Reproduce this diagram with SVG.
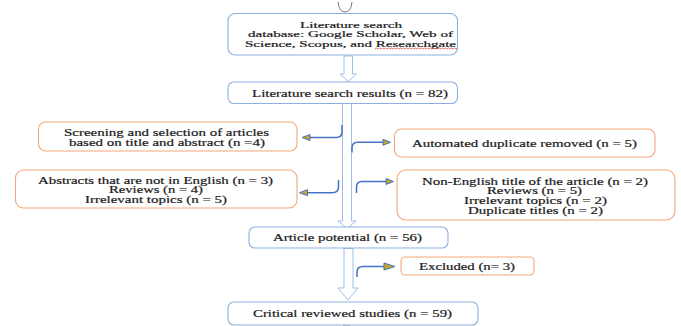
<svg xmlns="http://www.w3.org/2000/svg" width="681" height="326" viewBox="0 0 681 326">
<style>
.bb{fill:#fff;stroke:#8eb0e0;stroke-width:1.1}
.ob{fill:#fff;stroke:#f4a777;stroke-width:1.1}
.t{font-family:"Liberation Serif","Times New Roman",serif;font-size:10.5px;fill:#1a1a1a;stroke:#1a1a1a;stroke-width:0.2}
.s{font-size:9px}
.ha{fill:#fff;stroke:#9dbfe6;stroke-width:1}
.cn{fill:none;stroke:#4472c4;stroke-width:1.5}
.ah{fill:#c9a52a;stroke:#4472c4;stroke-width:1}
</style>
<rect width="681" height="326" fill="#fff"/>
<g id="connectors">
<path d="M338,2 Q339,12 345,12 Q351,12 352,2" fill="none" stroke="#777" stroke-width="1"/>
<path class="ha" d="M344,56 H352.5 V74 H356.5 L348.3,81.5 L340,74 H344 Z"/>
<path class="ha" d="M342.5,103.5 H351.5 V221 H356 L347,228.5 L338,221 H342.5 Z"/>
<path class="ha" d="M344,248.5 H353 V288 H358 L348,300 L338,288 H344 Z"/>
<path class="cn" d="M342,125 V132 Q342,137.5 336,137.5 H309"/>
<path class="ah" d="M302,137.5 L310,134.5 L310,140.5 Z"/>
<path class="cn" d="M338.5,180 V187 Q338.5,192.7 332,192.7 H306"/>
<path class="ah" d="M299.5,192.7 L307.5,189.7 L307.5,195.7 Z"/>
<path class="cn" d="M352,152.5 V148 Q352,142.3 358,142.3 H384"/>
<path class="ah" d="M390.5,142.3 L383,139.3 L383,145.3 Z"/>
<path class="cn" d="M356.5,193 V187 Q356.5,181.5 362,181.5 H387"/>
<path class="ah" d="M393.5,181.5 L386,178.5 L386,184.5 Z"/>
<path class="cn" d="M357,277 V272 Q357,266.5 363,266.5 H384"/>
<path class="ah" d="M395,266.5 L384,263 L384,270 Z"/>
<path d="M343,325 H350" stroke="#777" stroke-width="1"/>
</g>
<g id="n1">
<rect class="bb" x="228" y="13.5" width="229.5" height="41.5" rx="7"/>
<text class="t s" x="300" y="28" textLength="102" lengthAdjust="spacingAndGlyphs">Literature search</text>
<text class="t s" x="248" y="37.3" textLength="205" lengthAdjust="spacingAndGlyphs">database: Google Scholar, Web of</text>
<text class="t s" x="245" y="46.6" textLength="211" lengthAdjust="spacingAndGlyphs">Science, Scopus, and Researchgate</text>
<path d="M375,49 l1.5,-1 l1.5,1 l1.5,-1 l1.5,1 l1.5,-1 l1.5,1 l1.5,-1 l1.5,1 l1.5,-1 l1.5,1 l1.5,-1 l1.5,1 l1.5,-1 l1.5,1 l1.5,-1 l1.5,1 l1.5,-1 l1.5,1 l1.5,-1 l1.5,1 l1.5,-1 l1.5,1 l1.5,-1 l1.5,1 l1.5,-1 l1.5,1 l1.5,-1 l1.5,1 l1.5,-1 l1.5,1 l1.5,-1 l1.5,1 l1.5,-1 l1.5,1 l1.5,-1 l1.5,1 l1.5,-1 l1.5,1 l1.5,-1 l1.5,1 l1.5,-1 l1.5,1 l1.5,-1 l1.5,1 l1.5,-1 l1.5,1 l1.5,-1 l1.5,1 l1.5,-1 l1.5,1 l1.5,-1 l1.5,1 l1.5,-1 l1.5,1 l1.5,-1" fill="none" stroke="#d9534f" stroke-width="0.8"/>
</g>
<g id="n2">
<rect class="bb" x="228" y="82" width="229.5" height="21.5" rx="6"/>
<text class="t" x="252" y="96.5" textLength="196" lengthAdjust="spacingAndGlyphs">Literature search results (n = 82)</text>
</g>
<g id="n3">
<rect class="ob" x="38.5" y="122" width="258.5" height="29" rx="7"/>
<text class="t" x="64" y="135.5" textLength="205" lengthAdjust="spacingAndGlyphs">Screening and selection of articles</text>
<text class="t" x="69" y="145.5" textLength="196" lengthAdjust="spacingAndGlyphs">based on title and abstract (n =4)</text>
</g>
<g id="n4">
<rect class="ob" x="15.5" y="170" width="281.5" height="38" rx="8"/>
<text class="t" x="38" y="183.5" textLength="235" lengthAdjust="spacingAndGlyphs">Abstracts that are not in English (n = 3)</text>
<text class="t" x="109" y="193" textLength="94" lengthAdjust="spacingAndGlyphs">Reviews (n = 4)</text>
<text class="t" x="85" y="203" textLength="142" lengthAdjust="spacingAndGlyphs">Irrelevant topics (n = 5)</text>
</g>
<g id="n5">
<rect class="ob" x="394.5" y="129" width="260.5" height="28" rx="7"/>
<text class="t" x="412" y="147" textLength="225" lengthAdjust="spacingAndGlyphs">Automated duplicate removed (n = 5)</text>
</g>
<g id="n6">
<rect class="ob" x="397" y="170" width="278" height="50" rx="9"/>
<text class="t" x="422" y="184.5" textLength="226" lengthAdjust="spacingAndGlyphs">Non-English title of the article (n = 2)</text>
<text class="t" x="487" y="194" textLength="95" lengthAdjust="spacingAndGlyphs">Reviews (n = 5)</text>
<text class="t" x="464" y="204" textLength="143" lengthAdjust="spacingAndGlyphs">Irrelevant topics (n = 2)</text>
<text class="t" x="468" y="214" textLength="135" lengthAdjust="spacingAndGlyphs">Duplicate titles (n = 2)</text>
</g>
<g id="n7">
<rect class="bb" x="249" y="227" width="199" height="21" rx="6"/>
<text class="t" x="273" y="241" textLength="149" lengthAdjust="spacingAndGlyphs">Article potential (n = 56)</text>
</g>
<g id="n8">
<rect class="ob" x="401" y="257" width="133" height="18" rx="4"/>
<text class="t" x="419" y="270" textLength="96" lengthAdjust="spacingAndGlyphs">Excluded (n= 3)</text>
</g>
<g id="n9">
<rect class="bb" x="228" y="302" width="250" height="23" rx="6"/>
<text class="t" x="253" y="316.5" textLength="199" lengthAdjust="spacingAndGlyphs">Critical reviewed studies (n = 59)</text>
</g>
</svg>
